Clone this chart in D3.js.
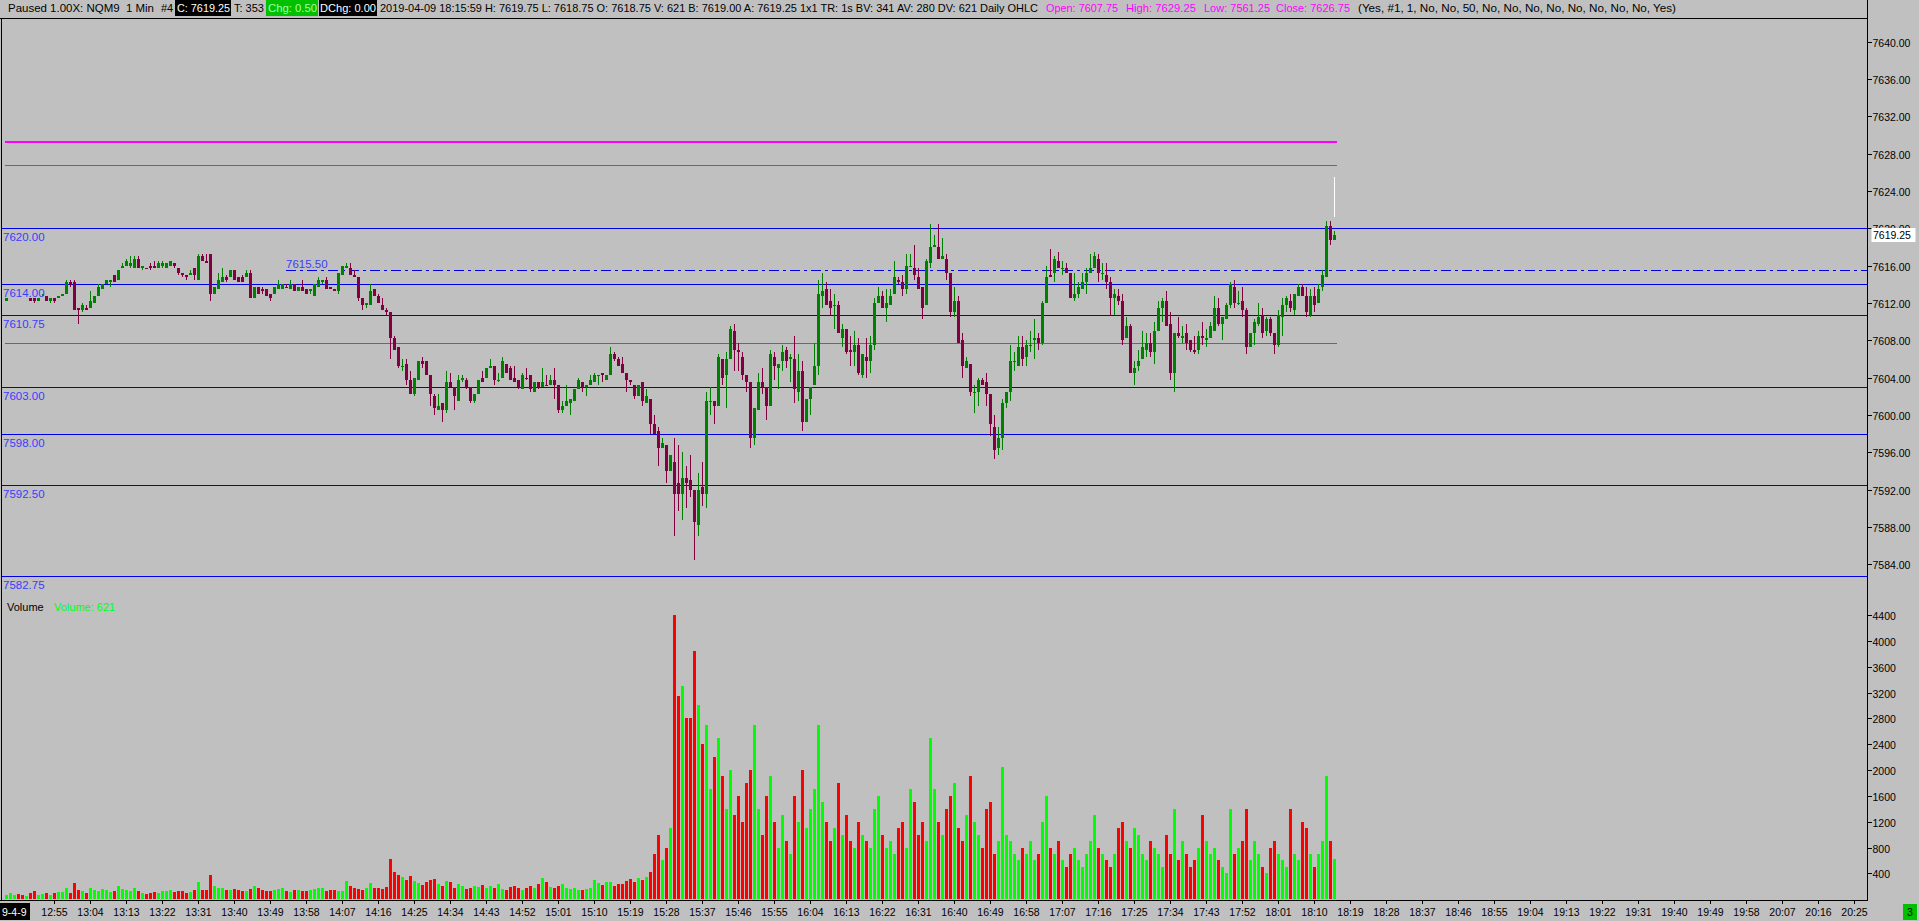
<!DOCTYPE html>
<html><head><meta charset="utf-8">
<script src="https://cdn.jsdelivr.net/npm/d3@7"></script>
<style>html,body{margin:0;padding:0;background:#c0c0c0;overflow:hidden}text{white-space:pre}</style>
</head><body>
<svg id="c" width="1919" height="921"></svg>
<script>
// ---------------- DATA ----------------
const firstBarTime = "12:43";
// one-minute bars: [open, high, low, close]
const ohlc = [
[7612.25,7612.5,7612.25,7612.5],[7612.75,7613.25,7612.75,7613],[7613,7613.5,7613,7613.25],[7613.25,7613.5,7613,7613],[7613,7613.25,7612.75,7612.75],
[7612.75,7613,7612.75,7613],[7612.5,7612.5,7612.25,7612.25],[7612.5,7612.5,7612,7612.25],[7612.25,7612.5,7612.25,7612.5],[7612.75,7613,7612.75,7613],
[7612.75,7612.75,7612.25,7612.25],[7612.25,7612.5,7612,7612.5],[7612.5,7612.5,7612,7612.25],[7612.5,7612.75,7612.5,7612.75],[7612.75,7613,7612.75,7613],
[7613,7614.5,7613,7614.25],[7614.25,7614.5,7613.75,7614],[7614.25,7614.5,7611.25,7611.25],[7611.5,7611.5,7609.75,7611.25],[7611.25,7612,7611,7611.75],
[7611.5,7611.75,7611.25,7611.25],[7611.5,7613.25,7611.5,7612.25],[7612,7612.75,7612,7612.75],[7612.75,7614,7612.75,7613.75],[7613.5,7614,7613.5,7614],
[7614,7614.5,7614,7614.5],[7614.25,7614.5,7613.75,7614.5],[7615,7615,7614.25,7614.25],[7614.5,7615.5,7614.5,7615.5],[7615.75,7616.25,7615.75,7616],
[7616,7616.75,7616,7616.5],[7616,7617,7615.75,7616.25],[7615.75,7617,7615.75,7616.75],[7616.75,7617,7615.75,7615.75],[7615.75,7616,7615.5,7616],
[7615.75,7615.75,7615.75,7615.75],[7616,7616.25,7615.5,7615.75],[7616,7616.5,7615.75,7615.75],[7615.75,7616.5,7615.75,7616.25],[7616,7616.5,7615.75,7616.25],
[7615.75,7616.25,7615.75,7616.25],[7616,7616.5,7616,7616.5],[7616.25,7616.25,7615.75,7616],[7615.75,7615.75,7615,7615.25],[7615.25,7615.25,7614.75,7615],
[7615,7615,7614.5,7614.75],[7615,7615.5,7615,7615.25],[7615.75,7615.75,7614.5,7615],[7614.5,7617.25,7614.5,7617],[7617,7617.25,7616.5,7616.5],
[7616.5,7617.25,7616.25,7616.25],[7617.25,7617.25,7612.25,7613],[7613,7613.75,7613,7613.75],[7613.5,7615.25,7613.5,7614.5],[7614.25,7615.75,7614.25,7614.75],
[7614.75,7615,7614.25,7614.5],[7614.75,7615.5,7614.75,7615.5],[7615.5,7615.5,7614.5,7614.5],[7614.75,7614.75,7614.25,7614.25],[7614.75,7615,7614.25,7614.25],
[7614.75,7615.5,7614.75,7615.25],[7615.25,7615.5,7612.5,7612.5],[7612.5,7613.75,7612.5,7613.75],[7613.75,7613.75,7613,7613],[7613.5,7613.75,7613,7613.25],
[7613.5,7613.5,7612.75,7612.75],[7613,7613,7612.25,7612.5],[7613,7613.75,7613,7613.75],[7613.5,7614.5,7613.5,7614],[7613.5,7614,7613.5,7614],
[7613.75,7614,7613.75,7613.75],[7613.5,7614.5,7613.5,7614],[7614,7614,7613.25,7613.25],[7613.25,7613.75,7613.25,7613.75],[7613.75,7614.5,7613.25,7613.25],
[7613.5,7613.5,7613,7613],[7613.25,7613.5,7613,7613.5],[7612.75,7614,7612.75,7614],[7613.75,7614.75,7613.75,7614.5],[7614.25,7614.5,7614,7614.5],
[7614.5,7614.75,7613.5,7613.5],[7613.75,7613.75,7613.5,7613.5],[7613.5,7613.5,7613.25,7613.25],[7613.25,7615.25,7613,7615.25],[7615,7616,7615,7616],
[7615.75,7616.25,7615.75,7616],[7615.75,7616.25,7615,7615],[7615,7615.5,7614.75,7614.75],[7614.75,7614.75,7612.25,7612.5],[7612.5,7612.5,7611.25,7611.75],
[7611.75,7612,7611.5,7612],[7611.75,7614,7611.75,7613.25],[7613.5,7613.5,7612.75,7612.75],[7612.75,7613,7612,7612],[7611.75,7612.5,7611.25,7611.25],
[7611.25,7611.5,7610.75,7611],[7611,7611,7606,7608.25],[7608.25,7608.5,7607,7607],[7607.25,7607.25,7605,7605.25],[7605.25,7606,7604.75,7605.25],
[7605.5,7606,7603.25,7603.75],[7603.75,7604.75,7602.25,7602.25],[7602.25,7604,7602,7604],[7603.75,7605.75,7603.75,7605.75],[7605.75,7606.25,7605,7605.5],
[7605.75,7605.75,7604.25,7604.25],[7604.25,7604.25,7601,7602.25],[7602,7602.25,7600,7600.75],[7600.5,7602.25,7600.5,7601],[7601.25,7601.25,7599.25,7600.5],
[7600.5,7604.75,7600.25,7603.5],[7603.5,7604.5,7603,7603],[7603,7603,7600.5,7602],[7601.5,7604.25,7601.5,7603.75],[7603.75,7604.25,7603.5,7604],
[7603.75,7604,7602.75,7603],[7603,7603,7601.25,7601.5],[7601.5,7602.25,7601.25,7602.25],[7602.25,7603.75,7602.25,7603.75],[7604,7604.75,7603.5,7603.5],
[7604,7605,7604,7605],[7605,7606,7605,7605.25],[7605.25,7605.25,7603.25,7603.75],[7603.75,7604.5,7603.5,7603.75],[7604,7606.25,7604,7605.75],
[7605.5,7605.5,7604.5,7604.5],[7605,7605.25,7603.75,7603.75],[7604,7605.25,7603.5,7603.5],[7603.75,7603.75,7602.75,7603],[7602.75,7604.5,7602.75,7604.25],
[7604,7605,7603.75,7604],[7604.25,7604.25,7602.5,7602.75],[7602.5,7603.5,7602.5,7603.5],[7603.5,7603.5,7602.75,7603],[7603,7605,7603,7603.5],
[7603.25,7604.25,7603.25,7603.25],[7603.25,7604.25,7603.25,7603.75],[7603.75,7605,7601.75,7603.25],[7603.25,7603.25,7600.25,7600.5],[7600.5,7601.5,7600.25,7601],
[7601,7603.25,7601,7601.5],[7601.25,7601.75,7600,7601.75],[7601.5,7602.75,7601.5,7602.75],[7602.75,7604,7602.75,7603.75],[7603.5,7603.5,7602.5,7603],
[7603,7603.25,7602,7603.25],[7603.25,7604.25,7603.25,7603.75],[7603.5,7604.5,7603.5,7604.25],[7604.25,7604.25,7603.25,7604.25],[7604.5,7604.5,7603.5,7604.25],
[7603.75,7604.25,7603.75,7604.25],[7604.25,7607.25,7604.25,7606.5],[7606.5,7606.75,7605.75,7606],[7606,7606.25,7605.25,7605.25],[7605.5,7606.25,7604.5,7604.5],
[7604.5,7604.5,7602.5,7603.75],[7603.75,7603.75,7603.25,7603.5],[7603.25,7603.25,7601.75,7602],[7602,7603.25,7602,7603.25],[7603.5,7603.5,7601,7601.5],
[7601.25,7602.75,7601.25,7602],[7601.75,7601.75,7598,7599],[7599,7600,7598,7598],[7598.25,7598.75,7594.5,7596.5],[7596.5,7597.5,7596.5,7597],
[7596.75,7596.75,7592.75,7594],[7594,7595.75,7594,7595.75],[7595,7597.5,7587,7591.5],[7592.75,7596.75,7589.75,7591.5],[7591.5,7596,7588.75,7593.25],
[7593.25,7594.5,7590,7592.75],[7593,7595.75,7591.25,7592],[7592,7592,7584.5,7588.5],[7588.25,7593.75,7587,7592],[7592.25,7595,7590.25,7591.5],
[7591.5,7602.5,7590,7601.5],[7601.5,7603,7600,7601.5],[7601.5,7601.5,7599,7601],[7601,7606.5,7601,7606.25],[7606,7606,7603.25,7604],
[7604.25,7606.75,7600.75,7606],[7606,7609.5,7606,7609.25],[7609,7609.75,7604.75,7607],[7607,7607.75,7604.75,7606.75],[7606.25,7606.75,7603.75,7604.25],
[7604.25,7604.25,7602.5,7603.5],[7603.5,7603.5,7596.5,7597.5],[7597.5,7600.75,7596.75,7600.75],[7600.5,7604.5,7600.5,7603.5],[7603.5,7605,7602.25,7603],
[7603,7603,7599.5,7601],[7601,7607,7601,7606.5],[7606.25,7606.75,7603.75,7605.25],[7605,7605.5,7602.75,7605.5],[7605.75,7607.5,7604.75,7606.75],
[7607,7607.25,7605,7605.75],[7606,7606.5,7603.5,7606.25],[7606,7608.5,7601.25,7602.75],[7602.5,7606.5,7601.5,7604.75],[7604.75,7605.75,7598.25,7599.25],
[7599.25,7601.75,7599.25,7601.75],[7601.75,7603,7600,7603],[7603.25,7607.75,7603.25,7605.25],[7605.25,7614.5,7604.25,7613],[7612.75,7615.25,7611.5,7613.25],
[7613.5,7614.25,7611.75,7611.75],[7612.25,7613.5,7610.75,7611.5],[7611.75,7613,7609.25,7611.75],[7611.75,7612.25,7608.75,7608.75],[7608.25,7609.75,7607.25,7609.25],
[7609.25,7609.25,7606.5,7606.75],[7607,7608.5,7605.25,7606.75],[7606.75,7609,7605.25,7607.5],[7607.5,7608.25,7604.25,7604.5],[7604.25,7606.5,7604,7606.5],
[7606.25,7608.25,7604,7605.75],[7605.75,7608.5,7604.5,7607.5],[7607.5,7612.5,7607,7612],[7612,7613.75,7612,7612.75],[7612.75,7613.25,7611.5,7611.5],
[7611.5,7613.5,7610,7612],[7611.75,7613.5,7611.75,7612.75],[7613,7616.5,7613,7614.75],[7614.5,7614.75,7614,7614.25],[7614.25,7615,7612.75,7613.5],
[7613.5,7617.25,7613,7616],[7616,7617.25,7616,7616],[7615.75,7618.25,7614.5,7615],[7614.75,7615.75,7613.5,7613.5],[7613.75,7613.75,7610.25,7611.5],
[7611.75,7616.75,7611.75,7616.5],[7616.25,7620.5,7615.75,7618],[7618,7619.25,7618,7618.25],[7618,7620.5,7616.75,7616.75],[7616.75,7619,7616.75,7617],
[7616.75,7617.25,7614.5,7615.25],[7615.25,7615.25,7610.5,7611],[7611,7613.75,7610.5,7612.25],[7612.25,7612.75,7607.75,7607.75],[7608,7608.75,7604,7605.25],
[7605,7606.25,7605,7605.75],[7605.5,7605.5,7602,7602.5],[7602.5,7603.25,7600.25,7602.5],[7602.5,7604,7601,7603.75],[7603.75,7604,7603.25,7603.25],
[7603.5,7604.5,7601,7602.25],[7602.25,7602.25,7597.75,7599],[7598.75,7600,7595.25,7596.25],[7596.5,7598.75,7595.75,7597.5],[7597.5,7601.75,7596.25,7601.25],
[7601.25,7602.5,7600.75,7602.5],[7602.5,7607.5,7601.5,7605.75],[7605.75,7606.75,7604.75,7605.75],[7605.25,7608.5,7605.25,7607.25],[7607.25,7608.5,7605.25,7606],
[7606.25,7608,7605.25,7607.5],[7607.5,7609,7606.75,7607.5],[7608,7610.25,7606,7608.25],[7608.25,7608.75,7607,7607.75],[7607.75,7612.25,7607.5,7612],
[7612,7616,7612,7614.75],[7615,7617.75,7614.75,7614.75],[7615.25,7617,7614.25,7616.75],[7616.5,7617.5,7615.75,7615.75],[7615.75,7616.5,7615,7615.75],
[7615.75,7616.25,7615.25,7615.25],[7615.25,7615.25,7612.5,7612.5],[7612.5,7615.25,7612.25,7613],[7613,7614.25,7612.5,7613.75],[7613.5,7615.25,7613.5,7614.25],
[7614.25,7615.75,7613,7615.25],[7615.25,7617.25,7615.25,7615.75],[7615.75,7617.5,7615.75,7617],[7616.75,7617.25,7614.25,7615.25],[7615.25,7616.25,7614.5,7615.25],
[7615,7616.25,7613.5,7614.25],[7614.25,7614.75,7610.75,7612.5],[7612.5,7613.5,7610.75,7613],[7612.75,7613.5,7611.75,7612.25],[7612.25,7613,7607.5,7608],
[7608.25,7610.5,7608.25,7609.5],[7609.5,7609.75,7604.5,7604.5],[7604.5,7605.75,7603.25,7605],[7605.25,7607,7604.75,7605.75],[7606,7609,7606,7607.25],
[7607,7608.75,7606.25,7607.75],[7607.75,7608.75,7606.25,7606.75],[7606.75,7610,7605.5,7609],[7609,7612.25,7609,7611.5],[7611.5,7612.5,7610,7612.25],
[7612.25,7613.25,7609.5,7609.5],[7609.75,7611,7603.75,7604.5],[7604.5,7608.75,7602.5,7608.75],[7608.75,7610.5,7608.25,7608.5],[7608.25,7609.5,7607.75,7608.5],
[7608.75,7609.75,7607,7607.75],[7608,7608,7606.75,7607],[7607,7608.5,7606.5,7606.75],[7607,7609,7606.5,7608.5],[7608.5,7610,7607.5,7608.25],
[7608,7609.25,7607.25,7608.25],[7608.25,7610,7608.25,7609.5],[7609,7612.75,7609,7611.5],[7611.5,7612.5,7609.5,7609.75],[7609.75,7610.5,7608,7610.5],
[7610.25,7612,7610.25,7611.75],[7611.75,7614.25,7611.5,7614],[7613.75,7614.5,7611.5,7612],[7612,7613.25,7611.75,7612],[7612.25,7613.75,7610.5,7611.25],
[7611.25,7611.5,7606.5,7607.25],[7607.25,7608.75,7607.25,7608.75],[7608.75,7610.25,7607.5,7610],[7609.75,7612,7609.5,7610.5],[7610.75,7611.5,7608.25,7608.75],
[7609,7610.5,7608.5,7610.25],[7610.25,7610.5,7608.5,7608.75],[7608.75,7608.75,7606.5,7607.5],[7607.5,7611.25,7607.25,7610.75],[7610.5,7612.5,7608.5,7611.75],
[7611.75,7612.75,7611,7612.5],[7612.25,7613,7611,7611.5],[7611.25,7613,7610.75,7613],[7612.75,7614,7612.75,7613.75],[7613.75,7614,7612.75,7612.75],
[7612.75,7613.75,7610.5,7611],[7610.75,7613.5,7610.5,7612.75],[7612.75,7613.75,7611,7611.75],[7612,7614,7612,7613.5],[7613.75,7615.5,7613.25,7615],
[7614.75,7620.75,7614.75,7620.25],[7620.25,7620.75,7618.25,7618.75],[7618.75,7619.75,7618.75,7619.25]
];
const volumes = [
60,90,70,80,60,50,90,120,70,80,100,60,90,110,
110,180,90,250,150,120,90,180,150,120,160,140,110,130,200,160,140,
120,180,130,100,80,90,110,100,130,120,150,110,130,120,90,110,140,260,150,140,
380,
200,180,170,150,140,160,150,120,130,160,210,170,150,130,120,140,160,170,130,110,150,140,130,120,140,160,180,170,130,150,140,120,130,280,210,180,160,150,170,250,180,170,160,190,
620,
420,380,350,300,360,280,250,220,260,300,320,240,200,280,260,180,230,210,160,180,200,190,220,170,200,180,240,160,150,190,210,180,150,170,200,180,240,330,260,190,170,210,230,180,160,170,150,140,160,180,300,250,220,260,270,200,240,230,280,320,260,330,300,350,
420,700,1000,600,800,
1100,4400,3150,3300,2800,2800,3850,3000,2400,2700,1700,2200,2500,1900,1400,
2000,1300,1600,1200,1800,2000,2700,1400,1000,1600,1900,1200,800,1300,900,700,1600,1200,2000,1100,1400,1700,2700,1500,1200,900,1100,1800,1000,1300,900,800,1200,1000,900,800,1400,1600,1000,800,900,700,1100,1200,800,1700,1500,1000,1200,900,2500,1700,1200,1000,1400,1600,1800,1100,900,1300,1900,1200,1000,800,1400,1500,700,900,2050,1000,
900,700,600,800,700,900,600,700,1200,1600,800,700,900,600,500,700,800,600,500,700,900,1300,800,700,600,500,700,1100,1200,900,800,1100,1000,700,600,900,800,700,500,1000,700,1400,600,900,700,500,600,800,1300,900,700,800,600,500,400,1400,700,800,900,1400,600,900,700,500,400,800,900,700,600,500,1400,700,600,1200,1100,700,500,700,900,1900,900,621
];
const blueLevels = [7620, 7614, 7610.75, 7603, 7598, 7592.5, 7582.75];
const blueLabels = ["7620.00","7614.00","7610.75","7603.00","7598.00","7592.50","7582.75"];
const pivotLevel = 7615.5, pivotLabel = "7615.50";
const magentaLevels = [7629.25, 7626.75, 7607.75];
const priceTicks = [7640,7636,7632,7628,7624,7620,7616,7612,7608,7604,7600,7596,7592,7588,7584];
const volumeTicks = [400,800,1200,1600,2000,2400,2800,3200,3600,4000,4400];
const timeLabels = ["12:55","13:04","13:13","13:22","13:31","13:40","13:49","13:58","14:07","14:16","14:25","14:34","14:43","14:52","15:01","15:10","15:19","15:28","15:37","15:46","15:55","16:04","16:13","16:22","16:31","16:40","16:49","16:58","17:07","17:16","17:25","17:34","17:43","17:52","18:01","18:10","18:19","18:28","18:37","18:46","18:55","19:04","19:13","19:22","19:31","19:40","19:49","19:58","20:07","20:16","20:25"];
const dateLabel = "9-4-9";
const lastPrice = 7619.25, lastTick = [7625.5, 7621.25];
const lastVolume = 621;

// ---------------- DRAW ----------------
const W = 1919, H = 921;
const svg = d3.select("#c");
const FONT = "'Liberation Sans', Arial, sans-serif";
const toMin = s => { const [h,m] = s.split(":").map(Number); return h*60+m; };
const t0 = toMin(firstBarTime);
const axisX = 1867.5;
const x = d3.scaleLinear().domain([t0, toMin("20:25")]).range([6.5, 6.5 + 4*(toMin("20:25")-t0)]);
const y = d3.scaleLinear().domain([7582.75, 7620]).range([576, 228.33]);
const vy = d3.scaleLinear().domain([0, 4400]).range([899.2, 615]);
const snap = v => Math.round(v) + 0.5;

svg.append("rect").attr("width", W).attr("height", H).attr("fill", "#c0c0c0");

// level lines
const lv = svg.append("g").attr("shape-rendering","crispEdges");
lv.selectAll("line.blue").data(blueLevels).join("line").attr("class","blue")
  .attr("x1", 2).attr("x2", axisX).attr("y1", d=>snap(y(d))).attr("y2", d=>snap(y(d)))
  .attr("stroke", "#0000e8").attr("stroke-width", 1);
lv.selectAll("line.mag").data(magentaLevels).join("line").attr("class","mag")
  .attr("x1", 5).attr("x2", x(t0+332)+2).attr("y1", (d,i)=> i===0 ? Math.round(y(d)) : snap(y(d))).attr("y2", (d,i)=> i===0 ? Math.round(y(d)) : snap(y(d)))
  .attr("stroke", "#ff00ff").attr("stroke-width", (d,i)=> i===0 ? 2 : 1);
lv.append("line").attr("x1", 286).attr("x2", axisX).attr("y1", snap(y(pivotLevel))).attr("y2", snap(y(pivotLevel)))
  .attr("stroke", "#0000e8").attr("stroke-width", 1).attr("stroke-dasharray", "10,4,3,4");

// candles
const cg = svg.append("g").attr("shape-rendering","crispEdges");
ohlc.forEach((d,i) => {
  const cx = x(t0 + i);
  const col = d[3] > d[0] ? "#008000" : (d[3] < d[0] ? "#800040" : (i>0 && d[3] < ohlc[i-1][3] ? "#800040" : "#008000"));
  cg.append("line").attr("x1", cx).attr("x2", cx).attr("y1", y(d[1])).attr("y2", y(d[2])).attr("stroke", col).attr("stroke-width", 1);
  const top = y(Math.max(d[0], d[3])), bot = y(Math.min(d[0], d[3]));
  cg.append("rect").attr("x", cx-1.5).attr("width", 3).attr("y", top).attr("height", Math.max(1, bot-top)).attr("fill", col);
});
// last tick marker
cg.append("line").attr("x1", x(t0+332)).attr("x2", x(t0+332)).attr("y1", y(lastTick[0])).attr("y2", y(lastTick[1])).attr("stroke", "#ffffff");

// volume bars
const vg = svg.append("g").attr("shape-rendering","crispEdges");
vg.selectAll("rect").data(volumes).join("rect")
  .attr("x", (v,i)=> x(t0+i)-1.5).attr("width", 3)
  .attr("y", v=> vy(v)).attr("height", v=> vy(0)-vy(v))
  .attr("fill", (v,i)=> { const d = ohlc[i]; if (d[3] > d[0]) return "#00ff00"; if (d[3] < d[0]) return "#ff0000"; return (i>0 && d[3] < ohlc[i-1][3]) ? "#ff0000" : "#00ff00"; });

// left level labels (opaque)
const lg = svg.append("g");
blueLevels.forEach((p,i) => {
  const yy = snap(y(p));
  lg.append("rect").attr("x", 2).attr("y", yy+2).attr("width", 40).attr("height", 11).attr("fill", "#c0c0c0");
  lg.append("text").attr("x", 3).attr("y", yy+12).attr("font-family", FONT).attr("font-size", 11.5).attr("fill", "#3c3cff").text(blueLabels[i]);
});
lg.append("text").attr("x", 286).attr("y", snap(y(pivotLevel))-3).attr("font-family", FONT).attr("font-size", 11.5).attr("fill", "#3c3cff").text(pivotLabel);

// frame
const fg = svg.append("g").attr("shape-rendering","crispEdges");
fg.append("line").attr("x1", 1.5).attr("x2", 1.5).attr("y1", 18).attr("y2", 900).attr("stroke", "#000");
fg.append("line").attr("x1", axisX).attr("x2", axisX).attr("y1", 0).attr("y2", 900.5).attr("stroke", "#000");
fg.append("line").attr("x1", 0).attr("x2", axisX).attr("y1", 18.5).attr("y2", 18.5).attr("stroke", "#000");
fg.append("line").attr("x1", 0).attr("x2", axisX).attr("y1", 900.5).attr("y2", 900.5).attr("stroke", "#000");

// price axis
const pa = svg.append("g");
priceTicks.forEach(p => {
  const yy = snap(y(p));
  pa.append("line").attr("x1", axisX).attr("x2", axisX+4).attr("y1", yy).attr("y2", yy).attr("stroke", "#000").attr("shape-rendering","crispEdges");
  pa.append("text").attr("x", axisX+5).attr("y", yy+4).attr("font-family", FONT).attr("font-size", 10.5).attr("fill", "#000").text(p.toFixed(2));
});
const ly = y(lastPrice);
pa.append("rect").attr("x", axisX+4).attr("y", Math.round(ly)-7).attr("width", 44).attr("height", 14).attr("fill", "#fff");
pa.append("text").attr("x", axisX+5.5).attr("y", Math.round(ly)+4).attr("font-family", FONT).attr("font-size", 10.5).attr("fill", "#000").text(lastPrice.toFixed(2));

// volume axis
volumeTicks.forEach(v => {
  const yy = snap(vy(v));
  pa.append("line").attr("x1", axisX).attr("x2", axisX+4).attr("y1", yy).attr("y2", yy).attr("stroke", "#000").attr("shape-rendering","crispEdges");
  pa.append("text").attr("x", axisX+5).attr("y", yy+4).attr("font-family", FONT).attr("font-size", 10.5).attr("fill", "#000").text(v);
});

// time axis
const ta = svg.append("g");
timeLabels.forEach(s => {
  const xx = x(toMin(s));
  ta.append("line").attr("x1", xx).attr("x2", xx).attr("y1", 901).attr("y2", 904).attr("stroke", "#000").attr("shape-rendering","crispEdges");
  ta.append("text").attr("x", xx).attr("y", 916).attr("text-anchor", "middle").attr("font-family", FONT).attr("font-size", 10.5).attr("fill", "#000").text(s);
});
ta.append("rect").attr("x", 0).attr("y", 903).attr("width", 30).attr("height", 17).attr("fill", "#000");
ta.append("text").attr("x", 2).attr("y", 916).attr("font-family", FONT).attr("font-size", 10.5).attr("fill", "#fff").text(dateLabel);
ta.append("rect").attr("x", 1903).attr("y", 904).attr("width", 14).attr("height", 16).attr("fill", "#00c000");
ta.append("text").attr("x", 1910).attr("y", 916).attr("text-anchor", "middle").attr("font-family", FONT).attr("font-size", 10.5).attr("fill", "#000").text("3");

// volume pane labels
svg.append("text").attr("x", 7).attr("y", 611).attr("font-family", FONT).attr("font-size", 11).attr("fill", "#000").text("Volume");
svg.append("text").attr("x", 54).attr("y", 611).attr("font-family", FONT).attr("font-size", 11).attr("fill", "#00ff00").text("Volume: " + lastVolume);

// header
const hd = svg.append("g").attr("font-family", FONT).attr("font-size", 11);
const boxes = [[175,231,"#000"],[266,318,"#00c000"],[319,377,"#000"]];
boxes.forEach(b => hd.append("rect").attr("x", b[0]).attr("y", 0).attr("width", b[1]-b[0]).attr("height", 16).attr("fill", b[2]));
const seg = [
  [8, "Paused 1.00X: NQM9  1 Min", "#000", 146],
  [161, "#4", "#000", 0],
  [177, "C: 7619.25", "#fff", 53],
  [234, "T: 353", "#000", 0],
  [268, "Chg: 0.50", "#a8ffa8", 49],
  [320, "DChg: 0.00", "#fff", 56],
  [380, "2019-04-09 18:15:59 H: 7619.75 L: 7618.75 O: 7618.75 V: 621 B: 7619.00 A: 7619.25 1x1 TR: 1s BV: 341 AV: 280 DV: 621 Daily OHLC", "#000", 658],
  [1046, "Open: 7607.75", "#ff00ff", 72],
  [1126, "High: 7629.25", "#ff00ff", 70],
  [1204, "Low: 7561.25", "#ff00ff", 66],
  [1276, "Close: 7626.75", "#ff00ff", 74],
  [1358, "(Yes, #1, 1, No, No, 50, No, No, No, No, No, No, No, No, Yes)", "#000", 318]
];
seg.forEach(s => {
  const t = hd.append("text").attr("x", s[0]).attr("y", 12).attr("fill", s[2]).text(s[1]);
  if (s[3]) t.attr("textLength", s[3]).attr("lengthAdjust", "spacingAndGlyphs");
});
</script>
</body></html>
